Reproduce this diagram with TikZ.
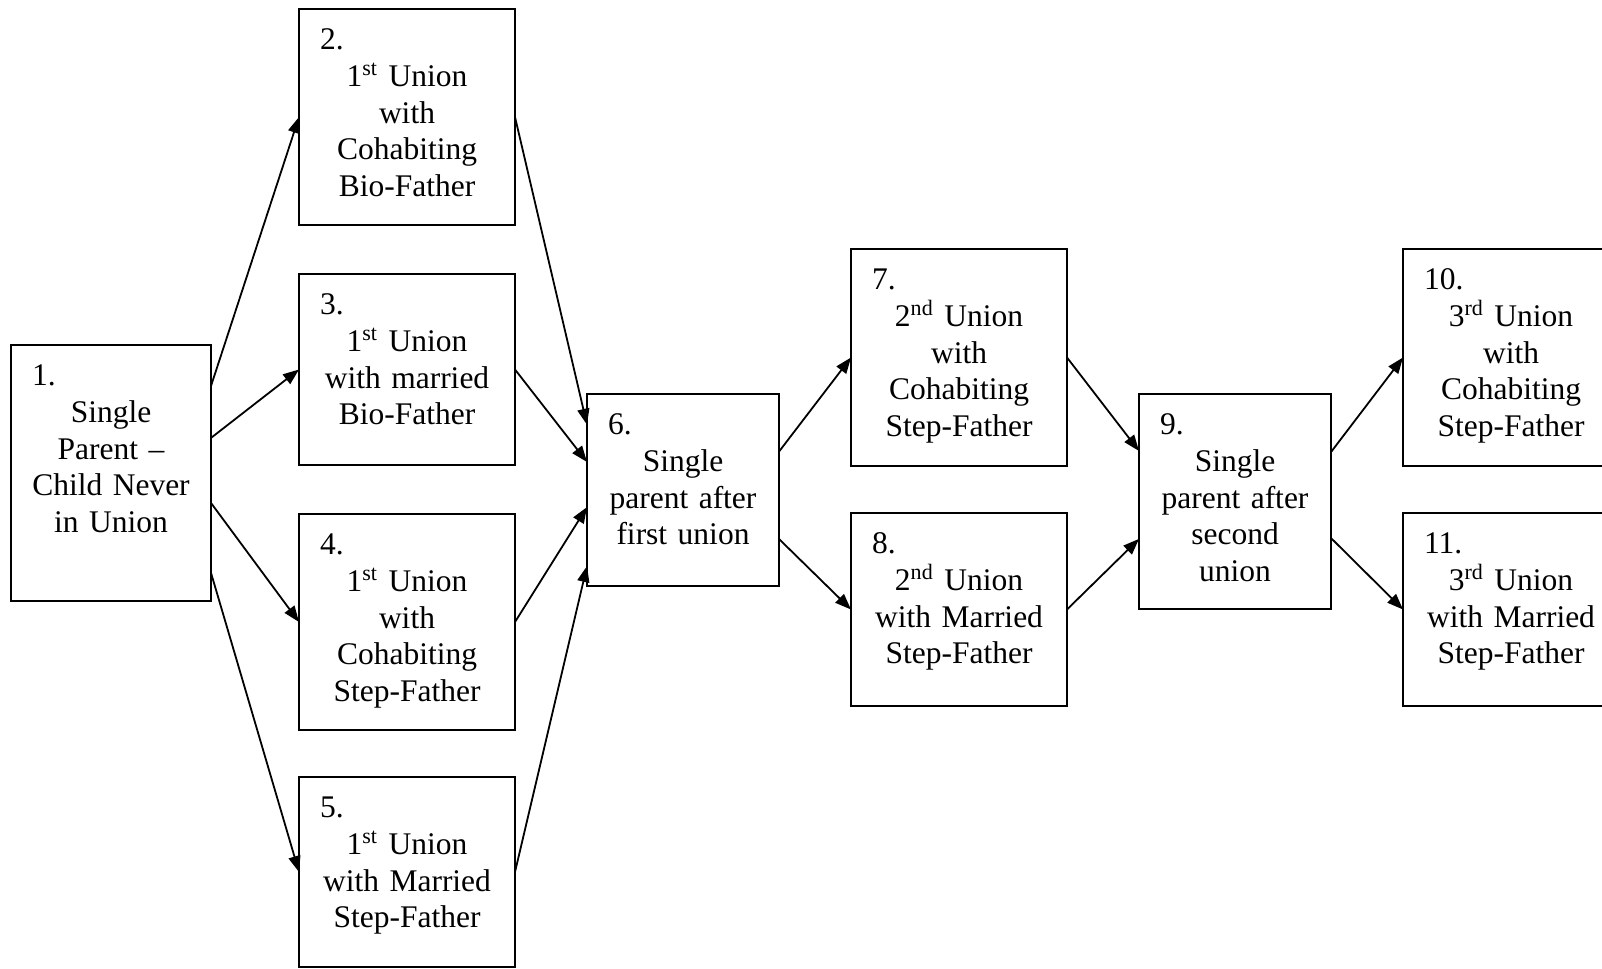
\documentclass[tikz,border=0pt]{standalone}
\usepackage{fontspec}
\setmainfont{Liberation Serif}
\usetikzlibrary{arrows.meta,calc}
\newcommand{\nm}[1]{\makebox[\linewidth][l]{\hspace{10.5pt}#1}}
\tikzset{
  ubox/.style={draw, line width=1pt, inner sep=0pt, outer sep=0pt, anchor=north west},
  btxt/.style={anchor=base west, inner sep=0pt, outer sep=0pt, align=center,
    font=\fontsize{15.75pt}{18.4pt}\selectfont},
  arr/.style={line width=0.9pt, -{Triangle[length=8pt,width=6pt]}}
}
\begin{document}
\begin{tikzpicture}[x=0.5pt,y=-0.5pt]
\useasboundingbox (0,0) rectangle (1602,969);
\clip (0,0) rectangle (1602,969);
\fill[white] (0,0) rectangle (1602,969);
% boxes
\node[ubox, minimum width=100pt, minimum height=128pt] (b1) at (11,345) {};
\node[ubox, minimum width=108pt, minimum height=108pt] (b2) at (299,9) {};
\node[ubox, minimum width=108pt, minimum height=95.5pt] (b3) at (299,274) {};
\node[ubox, minimum width=108pt, minimum height=108pt] (b4) at (299,514) {};
\node[ubox, minimum width=108pt, minimum height=95pt] (b5) at (299,777) {};
\node[ubox, minimum width=96pt, minimum height=96pt] (b6) at (587,394) {};
\node[ubox, minimum width=108pt, minimum height=108.5pt] (b7) at (851,249) {};
\node[ubox, minimum width=108pt, minimum height=96.5pt] (b8) at (851,513) {};
\node[ubox, minimum width=96pt, minimum height=107.5pt] (b9) at (1139,394) {};
\node[ubox, minimum width=108pt, minimum height=108.5pt] (b10) at (1403,249) {};
\node[ubox, minimum width=108pt, minimum height=96.5pt] (b11) at (1403,513) {};
% texts
\node[btxt, text width=100pt] (t1) at ([yshift=-20pt]b1.north west) {\nm{1.}\\[0.2pt]Single\\Parent –\\Child Never\\in Union};
\node[btxt, text width=108pt] (t2) at ([yshift=-20pt]b2.north west) {\nm{2.}\\[0.2pt]1\textsuperscript{st} Union\\with\\Cohabiting\\Bio-Father};
\node[btxt, text width=108pt] (t3) at ([yshift=-20pt]b3.north west) {\nm{3.}\\[0.2pt]1\textsuperscript{st} Union\\with married\\Bio-Father};
\node[btxt, text width=108pt] (t4) at ([yshift=-20pt]b4.north west) {\nm{4.}\\[0.2pt]1\textsuperscript{st} Union\\with\\Cohabiting\\Step-Father};
\node[btxt, text width=108pt] (t5) at ([yshift=-20pt]b5.north west) {\nm{5.}\\[0.2pt]1\textsuperscript{st} Union\\with Married\\Step-Father};
\node[btxt, text width=96pt] (t6) at ([yshift=-20pt]b6.north west) {\nm{6.}\\[0.2pt]Single\\parent after\\first union};
\node[btxt, text width=108pt] (t7) at ([yshift=-20pt]b7.north west) {\nm{7.}\\[0.2pt]2\textsuperscript{nd} Union\\with\\Cohabiting\\Step-Father};
\node[btxt, text width=108pt] (t8) at ([yshift=-20pt]b8.north west) {\nm{8.}\\[0.2pt]2\textsuperscript{nd} Union\\with Married\\Step-Father};
\node[btxt, text width=96pt] (t9) at ([yshift=-20pt]b9.north west) {\nm{9.}\\[0.2pt]Single\\parent after\\second\\union};
\node[btxt, text width=108pt] (t10) at ([yshift=-20pt]b10.north west) {\nm{10.}\\[0.2pt]3\textsuperscript{rd} Union\\with\\Cohabiting\\Step-Father};
\node[btxt, text width=108pt] (t11) at ([yshift=-20pt]b11.north west) {\nm{11.}\\[0.2pt]3\textsuperscript{rd} Union\\with Married\\Step-Father};
% connectors
\draw[arr] ($(b1.north east)!0.16!(b1.south east)$) -- (b2.west);
\draw[arr] ($(b1.north east)!0.363!(b1.south east)$) -- (b3.west);
\draw[arr] ($(b1.north east)!0.617!(b1.south east)$) -- (b4.west);
\draw[arr] ($(b1.north east)!0.89!(b1.south east)$) -- (b5.west);
\draw[arr] (b2.east) -- ($(b6.north west)!0.16!(b6.south west)$);
\draw[arr] (b3.east) -- ($(b6.north west)!0.354!(b6.south west)$);
\draw[arr] (b4.east) -- ($(b6.north west)!0.589!(b6.south west)$);
\draw[arr] (b5.east) -- ($(b6.north west)!0.896!(b6.south west)$);
\draw[arr] ($(b6.north east)!0.30!(b6.south east)$) -- (b7.west);
\draw[arr] ($(b6.north east)!0.755!(b6.south east)$) -- (b8.west);
\draw[arr] (b7.east) -- ($(b9.north west)!0.265!(b9.south west)$);
\draw[arr] (b8.east) -- ($(b9.north west)!0.674!(b9.south west)$);
\draw[arr] ($(b9.north east)!0.27!(b9.south east)$) -- (b10.west);
\draw[arr] ($(b9.north east)!0.67!(b9.south east)$) -- (b11.west);
\end{tikzpicture}
\end{document}
